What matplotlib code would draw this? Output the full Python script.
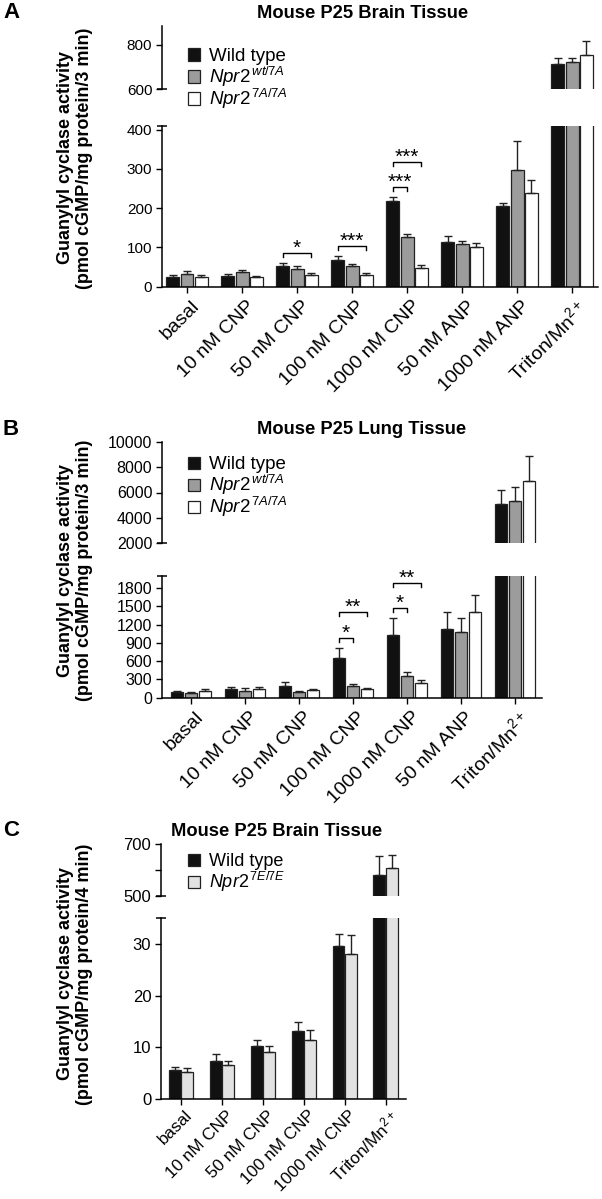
import numpy as np
import matplotlib
matplotlib.use('Agg')
from matplotlib import pyplot as plt
from matplotlib.patches import Rectangle
from matplotlib.transforms import ScaledTranslation

plt.rcParams['font.family'] = ['Liberation Sans', 'DejaVu Sans']
plt.rcParams['mathtext.fontset'] = 'custom'
plt.rcParams['mathtext.rm'] = 'Liberation Sans'
plt.rcParams['mathtext.it'] = 'Liberation Sans:italic'
plt.rcParams['mathtext.bf'] = 'Liberation Sans:bold'

W, H = 602, 1199

#panel A: brain, Npr2 7A
a_cats = ['basal', '10 nM CNP', '50 nM CNP', '100 nM CNP', '1000 nM CNP',
          '50 nM ANP', '1000 nM ANP', 'Triton/Mn$^{2+}$']
a_wt = [25, 28, 52, 68, 218, 114, 204, 713]
a_wt_err = [4, 3, 7, 9, 10, 15, 10, 30]
a_het = [33, 38, 45, 52, 126, 108, 297, 722]
a_het_err = [6, 3, 7, 5, 7, 7, 74, 21]
a_hom = [25, 24, 29, 30, 48, 101, 238, 755]
a_hom_err = [5, 3, 6, 5, 7, 10, 34, 63]
a_sig = [(2, 0, 2, 85, '*'), (3, 0, 2, 103, '***'),
         (4, 0, 1, 253, '***'), (4, 0, 2, 317, '***')]

#panel B: lung, Npr2 7A
b_cats = ['basal', '10 nM CNP', '50 nM CNP', '100 nM CNP', '1000 nM CNP',
          '50 nM ANP', 'Triton/Mn$^{2+}$']
b_wt = [85, 145, 195, 645, 1030, 1120, 5090]
b_wt_err = [25, 35, 65, 175, 275, 290, 1110]
b_het = [70, 100, 85, 190, 355, 1085, 5350]
b_het_err = [20, 50, 25, 40, 70, 230, 1060]
b_hom = [112, 148, 120, 140, 245, 1400, 6910]
b_hom_err = [25, 22, 28, 20, 40, 285, 1980]
b_sig = [(3, 0, 1, 974, '*'), (3, 0, 2, 1400, '**'),
         (4, 0, 1, 1477, '*'), (4, 0, 2, 1883, '**')]

#panel C: brain, Npr2 7E
c_cats = ['basal', '10 nM CNP', '50 nM CNP', '100 nM CNP', '1000 nM CNP',
          'Triton/Mn$^{2+}$']
c_wt = [5.7, 7.4, 10.2, 13.1, 29.5, 583]
c_wt_err = [0.6, 1.3, 1.3, 1.8, 2.4, 72]
c_e = [5.3, 6.6, 9.2, 11.5, 28.0, 609]
c_e_err = [0.8, 0.7, 1.0, 1.8, 3.6, 48]

BLACK = '#111111'
GREY = '#9c9c9c'
LIGHT = '#e2e2e2'
EDGE = '#222222'

fig = plt.figure(figsize=(W / 100, H / 100), dpi=100)


def fx(x):
    return x / W


def fy(y):
    return 1 - y / H


def px_axes(x0, x1, y_top, y_bot):
    ax = fig.add_axes([fx(x0), fy(y_bot), (x1 - x0) / W, (y_bot - y_top) / H])
    ax.set_facecolor('none')
    return ax


def draw_bars(ax, series, errs, colors, offsets, width):
    x = np.arange(len(series[0]))
    for vals, err, c, off in zip(series, errs, colors, offsets):
        ax.bar(x + off, vals, width, color=c, edgecolor=EDGE, linewidth=0.9, zorder=2)
        ax.errorbar(x + off, vals, yerr=[np.zeros(len(err)), err], fmt='none',
                    ecolor=EDGE, elinewidth=1, capsize=2.7, capthick=1, zorder=3)


def style(ax, upper, ysize, xsize, xpad):
    for s in ['top', 'right']:
        ax.spines[s].set_visible(False)
    ax.spines['left'].set_linewidth(1.1)
    ax.spines['bottom'].set_linewidth(1.1)
    ax.tick_params(axis='y', length=4, width=1, labelsize=ysize, pad=3)
    if upper:
        ax.spines['bottom'].set_visible(False)
        ax.set_xticks([])
        ax.plot([0], [0], marker='_', ms=7, mew=1.1, color='k',
                transform=ax.transAxes, clip_on=False)
    else:
        ax.tick_params(axis='x', length=4, width=1, labelsize=xsize, pad=xpad)
        ax.plot([0], [1], marker='_', ms=7, mew=1.1, color='k',
                transform=ax.transAxes, clip_on=False)
        #nudge the slanted labels a little to the right
        shift = ScaledTranslation(4 / 100, 0, fig.dpi_scale_trans)
        for lab in ax.get_xticklabels():
            lab.set_transform(lab.get_transform() + shift)


def brackets(ax, sig, offsets, d):
    for g, i, j, h, lab in sig:
        x1, x2 = g + offsets[i], g + offsets[j]
        ax.plot([x1, x1, x2, x2], [h - d, h, h, h - d], color='k', lw=1, zorder=4)
        ax.annotate(lab, xy=((x1 + x2) / 2, h), xytext=(0, -3.5),
                    textcoords='offset points', ha='center', va='bottom', fontsize=15)


def legend(labels, colors, y_centers, fsize):
    for lab, c, yc in zip(labels, colors, y_centers):
        fig.patches.append(Rectangle((fx(188), fy(yc + 6)), 12 / W, 12 / H,
                                     facecolor=c, edgecolor=EDGE, linewidth=0.9,
                                     transform=fig.transFigure, figure=fig))
        fig.text(fx(209), fy(yc + 6.3), lab, fontsize=fsize, ha='left', va='baseline')


def panel(letter, title, title_xy, cats, series, errs, colors, offsets, width,
          xr, xlim, up_box, up_lim, up_ticks, lo_box, lo_lim, lo_ticks,
          ylab, ylab_y, leg_labels, leg_y, sizes, sig=None, d=0, up_labels=None):
    ysize, xsize, xpad, lsize = sizes
    up = px_axes(xr[0], xr[1], up_box[0], up_box[1])
    lo = px_axes(xr[0], xr[1], lo_box[0], lo_box[1])
    for ax in (up, lo):
        draw_bars(ax, series, errs, colors, offsets, width)
        ax.set_xlim(*xlim)
    up.set_ylim(*up_lim)
    up.set_yticks(up_ticks)
    if up_labels is not None:
        up.set_yticklabels(up_labels)
    lo.set_ylim(*lo_lim)
    lo.set_yticks(lo_ticks)
    lo.set_xticks(np.arange(len(cats)))
    lo.set_xticklabels(cats, rotation=45, ha='right', va='top', rotation_mode='anchor')
    style(up, True, ysize, xsize, xpad)
    style(lo, False, ysize, xsize, xpad)
    if sig:
        brackets(lo, sig, offsets, d)
    fig.text(fx(11), fy(title_xy[1]), letter, fontsize=16, fontweight='bold',
             ha='center', va='center')
    fig.text(fx(title_xy[0]), fy(title_xy[1]), title, fontsize=13.2,
             fontweight='bold', ha='center', va='center')
    fig.text(fx(75), fy(ylab_y), ylab, fontsize=13, fontweight='bold',
             rotation=90, ha='center', va='center')
    legend(leg_labels, colors, leg_y, lsize)


lab7 = ['Wild type', r'$\mathit{Npr2}^{\,\mathit{wt/7A}}$', r'$\mathit{Npr2}^{\,\mathit{7A/7A}}$']

panel('A', 'Mouse P25 Brain Tissue', (363, 13), a_cats,
      [a_wt, a_het, a_hom], [a_wt_err, a_het_err, a_hom_err],
      [BLACK, GREY, 'white'], [-0.26, 0, 0.26], 0.235,
      (162, 598), (-0.455, 7.47),
      (26, 89.3), (600, 885), [600, 800],
      (126, 286.5), (0, 409), [0, 100, 200, 300, 400],
      'Guanylyl cyclase activity\n(pmol cGMP/mg protein/3 min)', 158,
      lab7, [54.5, 76.5, 98.5], (11, 14, 4, 13.5), a_sig, 10)

panel('B', 'Mouse P25 Lung Tissue', (362, 429), b_cats,
      [b_wt, b_het, b_hom], [b_wt_err, b_het_err, b_hom_err],
      [BLACK, GREY, 'white'], [-0.26, 0, 0.26], 0.23,
      (162, 542), (-0.54, 6.5),
      (442, 543), (2000, 10000), [2000, 4000, 6000, 8000, 10000],
      (576, 697.5), (0, 2000), [0, 300, 600, 900, 1200, 1500, 1800],
      'Guanylyl cyclase activity\n(pmol cGMP/mg protein/3 min)', 570,
      lab7, [463, 485, 507], (11.5, 14, 4, 13.5), b_sig, 66)

panel('C', 'Mouse P25 Brain Tissue', (277, 831), c_cats,
      [c_wt, c_e], [c_wt_err, c_e_err],
      [BLACK, LIGHT], [-0.15, 0.15], 0.29,
      (161, 406), (-0.49, 5.5),
      (844.3, 896), (500, 700), [500, 600, 700],
      (917.7, 1099.3), (0, 35), [0, 10, 20, 30],
      'Guanylyl cyclase activity\n(pmol cGMP/mg protein/4 min)', 974,
      ['Wild type', r'$\mathit{Npr2}^{\,\mathit{7E/7E}}$'], [859.5, 881.5], (12, 12.3, 2, 13),
      up_labels=['500', '', '700'])

fig.savefig('out.png', dpi=100)
